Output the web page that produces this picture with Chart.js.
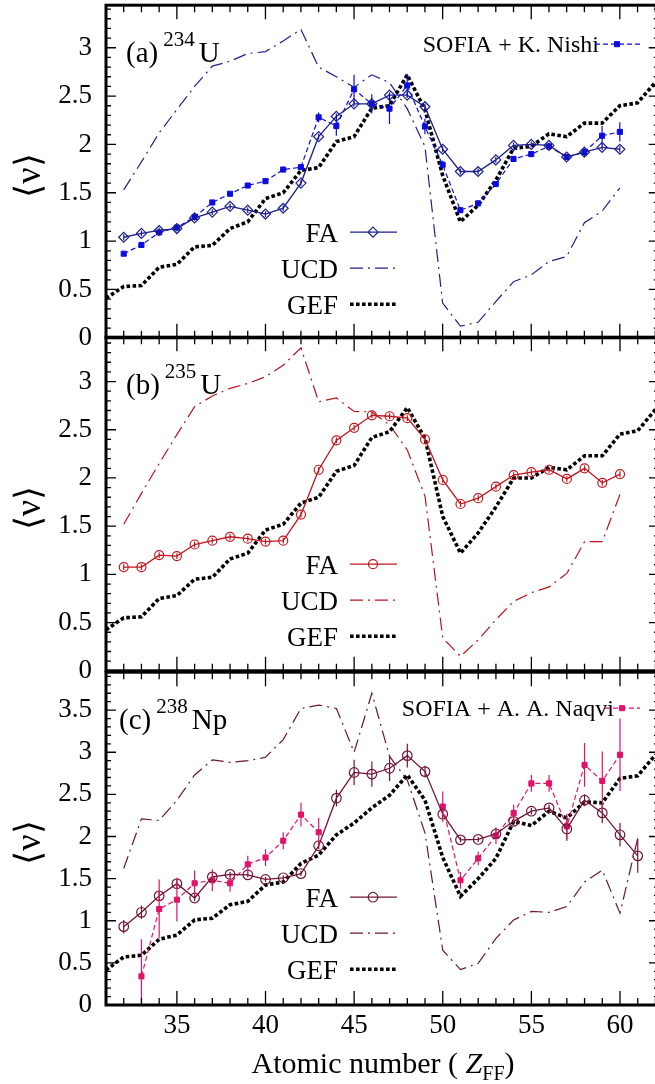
<!DOCTYPE html>
<html>
<head>
<meta charset="utf-8">
<style>
  html, body { margin: 0; padding: 0; background: #fff; overflow: hidden; }
  body { width: 655px; height: 1084px; position: relative; }
  .panel { position: absolute; left: 0; width: 665px; }
</style>
<script src="https://cdn.jsdelivr.net/npm/chart.js@4.4.1/dist/chart.umd.min.js"></script>
</head>
<body>
<div class="panel" style="top:-25px;height:393px"><canvas id="panelA"></canvas></div>
<div class="panel" style="top:307px;height:394px"><canvas id="panelB"></canvas></div>
<div class="panel" style="top:642px;height:442px"><canvas id="panelC"></canvas></div>
<script>
// atomic numbers of the fission fragments
const zGef = [31, 32, 33, 34, 35, 36, 37, 38, 39, 40, 41, 42, 43, 44, 45, 46, 47, 48, 49, 50, 51, 52, 53, 54, 55, 56, 57, 58, 59, 60, 61, 62]
const zMain = [32, 33, 34, 35, 36, 37, 38, 39, 40, 41, 42, 43, 44, 45, 46, 47, 48, 49, 50, 51, 52, 53, 54, 55, 56, 57, 58, 59, 60]
const zNp = [32, 33, 34, 35, 36, 37, 38, 39, 40, 41, 42, 43, 44, 45, 46, 47, 48, 49, 50, 51, 52, 53, 54, 55, 56, 57, 58, 59, 60, 61]
const zNaqvi = [33, 34, 35, 36, 37, 38, 39, 40, 41, 42, 43, 44, 45, 46, 47, 48, 49, 50, 51, 52, 53, 54, 55, 56, 57, 58, 59, 60]

const xTicks = [35, 40, 45, 50, 55, 60]
const yTicksU = [0, 0.5, 1, 1.5, 2, 2.5, 3]
const yTicksNp = [0, 0.5, 1, 1.5, 2, 2.5, 3, 3.5]

// (a) 234U
const faU234 = [1.04, 1.08, 1.11, 1.13, 1.24, 1.30, 1.36, 1.32, 1.28, 1.34, 1.60, 2.08, 2.29, 2.42, 2.42, 2.51, 2.51, 2.39, 1.95, 1.72, 1.72, 1.84, 1.99, 2.00, 1.99, 1.87, 1.92, 1.97, 1.95]
const faU234Err = [0.03, 0.03, 0.03, 0.03, 0.03, 0.03, 0.03, 0.03, 0.03, 0.03, 0.03, 0.03, 0.03, 0.03, 0.03, 0.03, 0.03, 0.03, 0.03, 0.03, 0.03, 0.03, 0.03, 0.03, 0.03, 0.03, 0.03, 0.03, 0.03]
const nishiU234 = [0.87, 0.96, 1.09, 1.14, 1.25, 1.40, 1.49, 1.575, 1.62, 1.74, 1.765, 2.28, 2.19, 2.57, 2.42, 2.37, 2.61, 2.185, 1.79, 1.32, 1.39, 1.59, 1.85, 1.90, 1.98, 1.87, 1.92, 2.09, 2.13]
const nishiU234Err = [0.02, 0.02, 0.02, 0.02, 0.02, 0.02, 0.02, 0.02, 0.02, 0.02, 0.03, 0.05, 0.1, 0.15, 0.1, 0.16, 0.12, 0.08, 0.04, 0.03, 0.03, 0.03, 0.03, 0.03, 0.03, 0.03, 0.04, 0.1, 0.1]
const ucdU234 = [1.53, 1.82, 2.12, 2.36, 2.60, 2.81, 2.86, 2.94, 2.96, 3.07, 3.19, 2.80, 2.70, 2.59, 2.72, 2.64, 2.37, 1.98, 0.36, 0.12, 0.16, 0.375, 0.58, 0.65, 0.79, 0.84, 1.19, 1.31, 1.55]
const gefU234 = [0.41, 0.53, 0.54, 0.73, 0.76, 0.94, 0.955, 1.13, 1.20, 1.44, 1.50, 1.73, 1.76, 2.03, 2.08, 2.375, 2.40, 2.72, 2.36, 1.68, 1.20, 1.37, 1.63, 1.96, 1.98, 2.11, 2.08, 2.22, 2.22, 2.40, 2.43, 2.64]

// (b) 235U
const faU235 = [1.076, 1.076, 1.20, 1.19, 1.31, 1.35, 1.39, 1.37, 1.34, 1.35, 1.62, 2.085, 2.39, 2.52, 2.65, 2.64, 2.62, 2.40, 1.98, 1.73, 1.79, 1.91, 2.03, 2.06, 2.085, 1.99, 2.10, 1.95, 2.04]
const faU235Err = [0.03, 0.03, 0.03, 0.03, 0.03, 0.03, 0.03, 0.03, 0.03, 0.03, 0.03, 0.03, 0.03, 0.03, 0.03, 0.03, 0.03, 0.03, 0.03, 0.03, 0.03, 0.03, 0.03, 0.03, 0.03, 0.03, 0.03, 0.03, 0.03]
const ucdU235 = [1.52, 1.84, 2.15, 2.45, 2.74, 2.85, 2.93, 2.98, 3.05, 3.17, 3.35, 2.79, 2.83, 2.69, 2.685, 2.55, 2.29, 1.81, 0.34, 0.15, 0.32, 0.53, 0.72, 0.81, 0.87, 1.01, 1.34, 1.34, 1.83]
const gefU235 = [0.425, 0.55, 0.56, 0.75, 0.78, 0.95, 0.97, 1.16, 1.22, 1.46, 1.52, 1.74, 1.80, 2.07, 2.13, 2.42, 2.48, 2.73, 2.41, 1.60, 1.22, 1.43, 1.70, 2.00, 2.00, 2.11, 2.085, 2.23, 2.23, 2.455, 2.49, 2.71]

// (c) 238Np
const faNp238 = [0.93, 1.10, 1.295, 1.44, 1.27, 1.52, 1.55, 1.545, 1.49, 1.51, 1.56, 1.89, 2.455, 2.76, 2.74, 2.81, 2.96, 2.77, 2.265, 1.96, 1.965, 2.03, 2.18, 2.30, 2.34, 2.09, 2.43, 2.28, 2.02, 1.77]
const faNp238Err = [0.08, 0.08, 0.05, 0.05, 0.04, 0.04, 0.03, 0.03, 0.03, 0.03, 0.03, 0.04, 0.1, 0.15, 0.15, 0.15, 0.14, 0.07, 0.05, 0.03, 0.03, 0.04, 0.04, 0.04, 0.04, 0.14, 0.07, 0.12, 0.14, 0.2]
const naqviNp238 = [0.34, 1.14, 1.25, 1.445, 1.48, 1.445, 1.67, 1.75, 1.95, 2.26, 2.05, null, null, null, null, null, null, 2.355, 1.48, 1.74, 2.01, 2.28, 2.63, 2.63, 2.12, 2.85, 2.66, 2.97]
const naqviNp238Err = [0.44, 0.35, 0.26, 0.15, 0.13, 0.1, 0.1, 0.1, 0.1, 0.14, 0.17, null, null, null, null, null, null, 0.18, 0.1, 0.08, 0.1, 0.1, 0.1, 0.1, 0.15, 0.26, 0.35, 0.43]
const ucdNp238 = [1.62, 2.21, 2.19, 2.43, 2.73, 2.91, 2.88, 2.90, 2.94, 3.15, 3.52, 3.56, 3.52, 3.00, 3.70, 2.95, 2.67, 2.04, 0.65, 0.42, 0.495, 0.79, 1.01, 1.11, 1.10, 1.17, 1.46, 1.60, 1.09, 1.98]
const gefNp238 = [0.415, 0.57, 0.59, 0.78, 0.83, 1.01, 1.03, 1.19, 1.23, 1.425, 1.46, 1.68, 1.78, 2.02, 2.16, 2.34, 2.49, 2.73, 2.43, 1.75, 1.29, 1.50, 1.74, 2.18, 2.13, 2.30, 2.22, 2.41, 2.40, 2.69, 2.72, 2.97]

const SERIF = "'Liberation Serif', 'Times New Roman', serif"
const CLEAR = 'rgba(0,0,0,0)'

function pts (zs, vs) {
  return zs.map((z, i) => ({ x: z, y: vs[i] }))
}

function faSet (zs, vs, errs, color, style, radius) {
  return {
    label: 'FA', data: pts(zs, vs), errors: errs,
    borderColor: color, borderWidth: 1.3,
    pointStyle: style, pointRadius: radius, pointBorderWidth: 1.2,
    pointBorderColor: color, pointBackgroundColor: CLEAR
  }
}

function sofiaSet (label, zs, vs, errs, color) {
  return {
    label: label, data: pts(zs, vs), errors: errs,
    borderColor: color, borderWidth: 1.2, borderDash: [5, 3],
    pointStyle: 'rect', pointRadius: 3.6, pointBorderWidth: 1,
    pointBorderColor: color, pointBackgroundColor: color
  }
}

function ucdSet (zs, vs, color) {
  return {
    label: 'UCD', data: pts(zs, vs),
    borderColor: color, borderWidth: 1.2, borderDash: [13, 5, 2, 5], pointRadius: 0
  }
}

function gefSet (vs) {
  return {
    label: 'GEF', data: pts(zGef, vs),
    borderColor: '#000', borderWidth: 3.6, borderDash: [3.6, 2.4], pointRadius: 0
  }
}

// frame with inward ticks on all four sides, plus error bars
const frame = {
  id: 'frame',
  afterDatasetsDraw (chart) {
    const { ctx, chartArea: a, scales: { x, y } } = chart
    ctx.save()
    ctx.beginPath()
    ctx.rect(a.left, a.top, a.width, a.height)
    ctx.clip()
    chart.data.datasets.forEach(ds => {
      if (!ds.errors) return
      ctx.strokeStyle = ds.borderColor
      ctx.lineWidth = 1.2
      ctx.setLineDash([])
      ds.data.forEach((p, j) => {
        const e = ds.errors[j]
        if (p.y === null || e === null) return
        const px = x.getPixelForValue(p.x)
        ctx.beginPath()
        ctx.moveTo(px, y.getPixelForValue(p.y + e))
        ctx.lineTo(px, y.getPixelForValue(p.y - e))
        ctx.stroke()
      })
    })
    ctx.restore()

    ctx.save()
    ctx.strokeStyle = '#000'
    ctx.lineWidth = 1.3
    ctx.setLineDash([])
    ctx.beginPath()
    for (let z = Math.ceil(x.min); z <= Math.floor(x.max); z++) {
      const px = x.getPixelForValue(z)
      const len = z % 5 === 0 ? 14 : 7
      ctx.moveTo(px, a.top); ctx.lineTo(px, a.top + len)
      ctx.moveTo(px, a.bottom); ctx.lineTo(px, a.bottom - len)
    }
    for (let i = 1; i / 10 < y.max; i++) {
      const py = y.getPixelForValue(i / 10)
      const len = i % 5 === 0 ? 10 : 5
      ctx.moveTo(a.left, py); ctx.lineTo(a.left + len, py)
      ctx.moveTo(a.right, py); ctx.lineTo(a.right - len, py)
    }
    ctx.stroke()
    ctx.lineWidth = 3
    ctx.strokeRect(a.left, a.top, a.width, a.height)
    ctx.restore()
  }
}

function drawSample (ctx, ds, x1, x2, yy) {
  ctx.save()
  ctx.strokeStyle = ds.borderColor
  ctx.lineWidth = ds.borderWidth
  ctx.setLineDash(ds.borderDash || [])
  ctx.beginPath()
  ctx.moveTo(x1, yy)
  ctx.lineTo(x2, yy)
  ctx.stroke()
  if (ds.pointRadius > 0) {
    ctx.setLineDash([])
    ctx.strokeStyle = ds.pointBorderColor
    ctx.fillStyle = ds.pointBackgroundColor
    ctx.lineWidth = ds.pointBorderWidth
    Chart.helpers.drawPoint(ctx, {
      pointStyle: ds.pointStyle, radius: ds.pointRadius, rotation: 0, borderWidth: ds.pointBorderWidth
    }, (x1 + x2) / 2 - 0.5, yy)
  }
  ctx.restore()
}

// panel tag, axis title and the two legends drawn inside the plot
function decor (cfg) {
  return {
    id: 'decor',
    afterDraw (chart) {
      const { ctx, chartArea: a } = chart
      const sets = chart.data.datasets
      ctx.save()
      ctx.fillStyle = '#000'
      ctx.textBaseline = 'alphabetic'

      ctx.textAlign = 'left'
      ctx.font = '29px ' + SERIF
      ctx.fillText(cfg.tag, cfg.tagX, a.top + 57)
      let cx = cfg.tagX + ctx.measureText(cfg.tag).width + 5
      ctx.font = '21px ' + SERIF
      ctx.fillText(cfg.mass, cx, a.top + 41)
      cx += ctx.measureText(cfg.mass).width + 4
      ctx.font = '29px ' + SERIF
      ctx.fillText(cfg.elem, cx, a.top + 57)

      ctx.save()
      ctx.translate(31, (a.top + a.bottom) / 2 + 4)
      ctx.rotate(-Math.PI / 2)
      ctx.textAlign = 'center'
      ctx.textBaseline = 'middle'
      ctx.font = '36px ' + SERIF
      ctx.fillText('⟨ν⟩', 0, 0)
      ctx.restore()

      ctx.textAlign = 'right'
      ctx.font = '27px ' + SERIF
      cfg.rows.forEach((label, k) => {
        const ds = sets.find(d => d.label === label)
        const yy = a.top + cfg.rowTop + k * 36
        ctx.fillText(label, 338, yy + 9.5)
        drawSample(ctx, ds, 350, 397, yy)
      })

      if (cfg.top) {
        const ds = sets.find(d => d.label === cfg.top.label)
        const yy = a.top + cfg.top.dy
        ctx.font = '24px ' + SERIF
        ctx.fillText(ds.label, cfg.top.textRight, yy + 8)
        drawSample(ctx, ds, cfg.top.x1, 640, yy)
      }

      if (cfg.xTitle) {
        const parts = [
          ['Atomic number ( ', '30px ' + SERIF, 0],
          ['Z', 'italic 30px ' + SERIF, 0],
          ['FF', '20px ' + SERIF, 7],
          [')', '30px ' + SERIF, 0]
        ]
        let total = 0
        parts.forEach(p => { ctx.font = p[1]; total += ctx.measureText(p[0]).width })
        let px = 383 - total / 2
        ctx.textAlign = 'left'
        parts.forEach(p => {
          ctx.font = p[1]
          ctx.fillText(p[0], px, a.bottom + 68 + p[2])
          px += ctx.measureText(p[0]).width
        })
      }
      ctx.restore()
    }
  }
}

function panelChart (id, datasets, yMax, yTicks, showX, cfg) {
  return new Chart(document.getElementById(id), {
    type: 'line',
    data: { datasets: datasets },
    options: {
      responsive: true,
      maintainAspectRatio: false,
      animation: false,
      events: [],
      spanGaps: false,
      layout: { padding: { top: 30, bottom: showX ? 34 : 30, left: 0, right: 6 } },
      plugins: { legend: { display: false }, tooltip: { enabled: false } },
      scales: {
        x: {
          type: 'linear', min: 31, max: 62.2, display: showX,
          grid: { display: false, drawTicks: false, tickLength: 0 },
          border: { display: false },
          ticks: { padding: 5, color: '#000', font: { family: SERIF, size: 27 }, callback: v => String(v) },
          afterBuildTicks: s => { s.ticks = xTicks.map(v => ({ value: v })) },
          afterFit: s => { s.height = showX ? 45 : 0 }
        },
        y: {
          min: 0, max: yMax,
          grid: { display: false, drawTicks: false, tickLength: 0 },
          border: { display: false },
          ticks: { padding: 14, color: '#000', font: { family: SERIF, size: 27 }, callback: v => String(v) },
          afterBuildTicks: s => { s.ticks = yTicks.map(v => ({ value: v })) },
          afterFit: s => { s.width = 106 }
        }
      }
    },
    plugins: [frame, decor(cfg)]
  })
}

const navy = '#1d1f8c'
const blue = '#0c0ce0'
const red = '#c2161f'
const maroon = '#711634'
const pink = '#e0136a'

panelChart('panelA', [
  faSet(zMain, faU234, faU234Err, navy, 'rectRot', 5),
  sofiaSet('SOFIA + K. Nishi', zMain, nishiU234, nishiU234Err, blue),
  gefSet(gefU234),
  ucdSet(zMain, ucdU234, navy)
], 3.44, yTicksU, false, {
  tag: '(a)', mass: '234', elem: 'U', tagX: 126, rowTop: 227,
  rows: ['FA', 'UCD', 'GEF'],
  top: { label: 'SOFIA + K. Nishi', dy: 39, textRight: 599, x1: 595 }
})

panelChart('panelB', [
  faSet(zMain, faU235, faU235Err, red, 'circle', 4.5),
  gefSet(gefU235),
  ucdSet(zMain, ucdU235, '#b8141c')
], 3.46, yTicksU, false, {
  tag: '(b)', mass: '235', elem: 'U', tagX: 126, rowTop: 227,
  rows: ['FA', 'UCD', 'GEF']
})

panelChart('panelC', [
  faSet(zNp, faNp238, faNp238Err, maroon, 'circle', 4.8),
  sofiaSet('SOFIA + A. A. Naqvi', zNaqvi, naqviNp238, naqviNp238Err, pink),
  gefSet(gefNp238),
  ucdSet(zNp, ucdNp238, '#6a1434')
], 3.95, yTicksNp, true, {
  tag: '(c)', mass: '238', elem: 'Np', tagX: 119, rowTop: 225,
  rows: ['FA', 'UCD', 'GEF'],
  top: { label: 'SOFIA + A. A. Naqvi', dy: 36, textRight: 614, x1: 605 },
  xTitle: true
})
</script>
</body>
</html>
